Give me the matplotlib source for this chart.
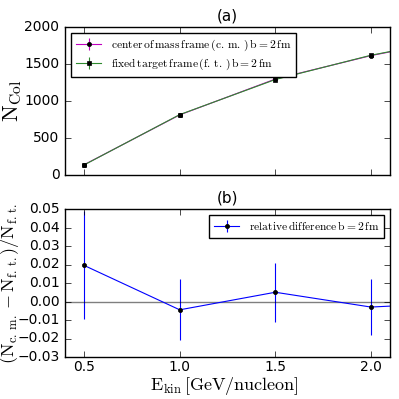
import matplotlib
matplotlib.use("Agg")
import matplotlib.pyplot as plt
import numpy as np

plt.style.use('classic')
plt.rcParams['mathtext.fontset'] = 'cm'
plt.rcParams['font.family'] = ['DejaVu Sans']

E_kin = [0.5, 1.0, 1.5, 2.0, 2.5]
N_ft = [136, 816, 1290, 1618, 1868]
N_ft_err = [3, 6, 8, 9, 10]
rel_diff = [0.0195, -0.0045, 0.005, -0.003, -0.0005]
rel_err = [0.0292, 0.0165, 0.016, 0.0153, 0.015]
N_cm = [n * (1 + r) for n, r in zip(N_ft, rel_diff)]
N_cm_err = N_ft_err

fig = plt.figure(figsize=(3.99, 3.99), dpi=100, facecolor='white')
ax1 = fig.add_axes([65/399, 1-175/399, 325/399, 148/399])
ax2 = fig.add_axes([65/399, 1-357/399, 325/399, 148/399])

ax1.errorbar(E_kin, N_cm, yerr=N_cm_err, color='m', marker='o', mfc='k', mec='k',
             ms=3, lw=0.8, capsize=0,
             label=r'$\mathrm{center\,of\,mass\,frame\,(c.\,m.\,)\,b=2\,fm}$')
ax1.errorbar(E_kin, N_ft, yerr=N_ft_err, color='#2e8b2e', marker='s', mfc='k', mec='k',
             ms=3, lw=0.8, capsize=0,
             label=r'$\mathrm{fixed\,target\,frame\,(f.\,t.\,)\,b=2\,fm}$')
ax1.set_xlim(0.4, 2.1)
ax1.set_ylim(0, 2000)
ax1.set_yticks([0, 500, 1000, 1500, 2000])
ax1.set_xticks([0.5, 1.0, 1.5, 2.0])
ax1.set_xticklabels([])
ax1.set_ylabel(r'$\mathrm{N_{Col}}$', fontsize=16)
ax1.yaxis.set_label_coords(-0.125, 0.5)
ax1.set_title('(a)', fontsize=11)
ax1.tick_params(labelsize=10)
ax1.legend(loc='upper left', numpoints=1, fontsize=8.3, frameon=True, fancybox=False,
           borderpad=0.45, labelspacing=0.3, handlelength=2.2)

ax2.errorbar(E_kin, rel_diff, yerr=rel_err, color='b', marker='o', mfc='k', mec='k',
             ms=3, lw=0.8, capsize=0,
             label=r'$\mathrm{relative\,difference\,b=2\,fm}$')
ax2.axhline(0, color='k', alpha=0.5, lw=1)
ax2.set_xlim(0.4, 2.1)
ax2.set_ylim(-0.03, 0.05)
ax2.set_xticks([0.5, 1.0, 1.5, 2.0])
ax2.set_yticks(np.arange(-0.03, 0.051, 0.01))
ax2.set_ylabel(r'$(\mathrm{N_{c.\,m.}}-\mathrm{N_{f.\,t.}})/\mathrm{N_{f.\,t.}}$', fontsize=13)
ax2.yaxis.set_label_coords(-0.135, 0.5)
ax2.set_xlabel(r'$\mathrm{E_{kin}\,[GeV/nucleon]}$', fontsize=13)
ax2.xaxis.set_label_coords(0.49, -0.12)
ax2.set_title('(b)', fontsize=11)
ax2.tick_params(labelsize=10)
ax2.tick_params(axis='x', pad=2)
ax2.legend(loc='upper right', numpoints=1, fontsize=8.3, frameon=True, fancybox=False,
           borderpad=0.45, handlelength=2.2)

fig.savefig('out.png', dpi=100, facecolor='white')
